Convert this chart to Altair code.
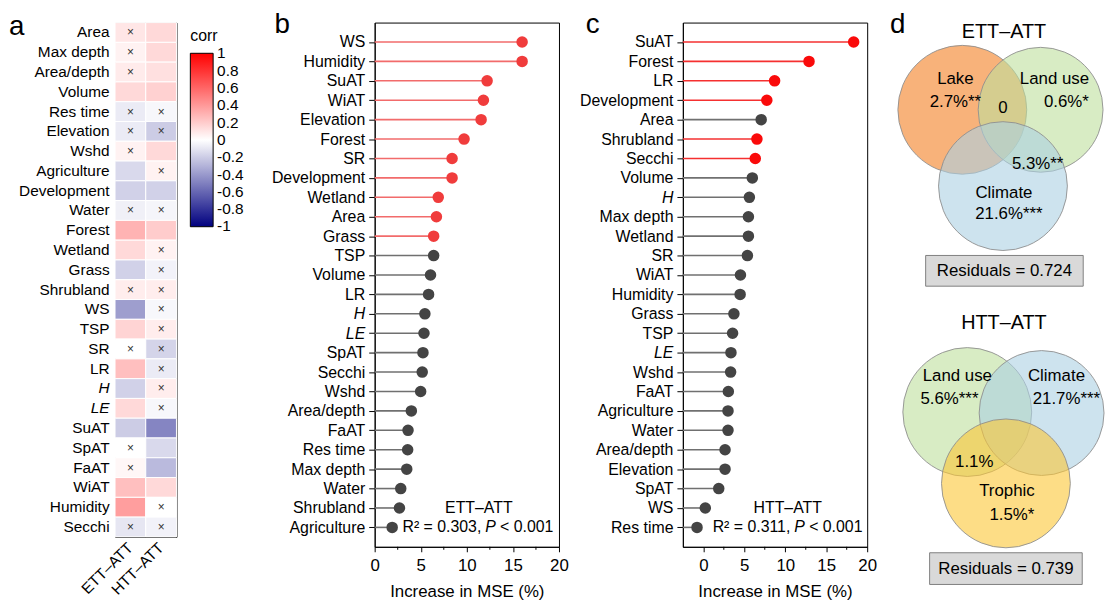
import altair as alt
import pandas as pd

FONT = "Liberation Sans"
ITALIC_TEST = "datum.value === 'H' || datum.value === 'LE'"

# ---------------- panel a : correlation heatmap ----------------
a_vars = ["Area", "Max depth", "Area/depth", "Volume", "Res time", "Elevation", "Wshd",
          "Agriculture", "Development", "Water", "Forest", "Wetland", "Grass", "Shrubland",
          "WS", "TSP", "SR", "LR", "H", "LE", "SuAT", "SpAT", "FaAT", "WiAT", "Humidity", "Secchi"]
a_cols = ["ETT–ATT", "HTT–ATT"]
a_ett = [0.10, 0.05, 0.08, 0.15, -0.08, -0.08, 0.05, -0.15, -0.18, -0.06, 0.30, 0.15, -0.18, 0.07,
         -0.38, 0.17, 0.00, 0.25, -0.18, 0.15, -0.20, 0.00, 0.03, 0.25, 0.38, -0.10]
a_htt = [0.15, 0.15, 0.12, 0.18, -0.03, -0.20, 0.15, 0.05, -0.18, -0.04, 0.20, 0.05, -0.05, 0.07,
         -0.03, 0.07, -0.17, -0.08, 0.07, -0.03, -0.48, -0.15, -0.27, 0.15, 0.00, -0.05]
a_ett_ns = [1, 1, 1, 0, 1, 1, 1, 0, 0, 1, 0, 0, 0, 1, 0, 0, 1, 0, 0, 0, 0, 1, 1, 0, 0, 1]
a_htt_ns = [0, 0, 0, 0, 1, 1, 0, 1, 0, 1, 0, 1, 1, 1, 1, 1, 1, 1, 1, 1, 0, 0, 0, 0, 1, 1]
legend_ticks = [1, 0.8, 0.6, 0.4, 0.2, 0, -0.2, -0.4, -0.6, -0.8, -1]

# ---------------- panel b : ETT-ATT importance ----------------
b_vars = ["WS", "Humidity", "SuAT", "WiAT", "Elevation", "Forest", "SR", "Development", "Wetland",
          "Area", "Grass", "TSP", "Volume", "LR", "H", "LE", "SpAT", "Secchi", "Wshd", "Area/depth",
          "FaAT", "Res time", "Max depth", "Water", "Shrubland", "Agriculture"]
b_vals = [16.0, 16.0, 12.2, 11.8, 11.55, 9.7, 8.4, 8.4, 6.9, 6.7, 6.4, 6.4, 6.06, 5.85, 5.45, 5.35,
          5.24, 5.16, 4.99, 3.98, 3.62, 3.58, 3.48, 2.83, 2.69, 1.9]
b_red = ["WS", "Humidity", "SuAT", "WiAT", "Elevation", "Forest", "SR", "Development", "Wetland",
         "Area", "Grass"]

# ---------------- panel c : HTT-ATT importance ----------------
c_vars = ["SuAT", "Forest", "LR", "Development", "Area", "Shrubland", "Secchi", "Volume", "H",
          "Max depth", "Wetland", "SR", "WiAT", "Humidity", "Grass", "TSP", "LE", "Wshd", "FaAT",
          "Agriculture", "Water", "Area/depth", "Elevation", "SpAT", "WS", "Res time"]
c_vals = [18.35, 12.9, 8.7, 7.75, 7.06, 6.54, 6.34, 5.98, 5.62, 5.5, 5.5, 5.38, 4.53, 4.49, 3.73,
          3.57, 3.37, 3.33, 3.05, 3.01, 3.01, 2.65, 2.65, 1.88, 0.24, -0.77]
c_red = ["SuAT", "Forest", "LR", "Development", "Shrubland", "Secchi"]

major_ticks = [0, 5, 10, 15, 20]
minor_ticks = [2.5, 7.5, 12.5, 17.5]

# ---------------- panel d : variation partitioning (Venn) ----------------
v_circle_set = ["Lake", "Land use", "Climate", "Land use", "Climate", "Trophic"]
v_circle_cx = [75, 154, 116, 80, 155, 119]
v_circle_cy = [88, 88, 165, 393, 394, 465]
v_circle_r = [65, 63, 65, 65, 63, 65]
v_circle_fill = ["#f37f21", "#bedf9d", "#acd0e3", "#bedf9d", "#acd0e3", "#fcc635"]
v_title_txt = ["ETT–ATT", "HTT–ATT"]
v_title_x = [117, 117]
v_title_y = [10, 303]
v_lab_txt = ["Lake", "2.7%**", "0", "Land use", "0.6%*", "5.3%**", "Climate", "21.6%***",
             "Land use", "5.6%***", "Climate", "21.7%***", "1.1%", "Trophic", "1.5%*"]
v_lab_x = [68, 68, 116, 168, 180, 151, 117, 122, 70, 62, 170, 180, 87, 120, 125]
v_lab_y = [57, 80, 86, 57, 80, 143, 172, 193, 357, 380, 357, 380, 443, 473, 497]
v_res_txt = ["Residuals = 0.724", "Residuals = 0.739"]
v_res_x1 = [38, 42]
v_res_x2 = [197, 196]
v_res_y1 = [235, 535]
v_res_y2 = [266, 567]


def letter(ch, dx, dy):
    return alt.Chart(pd.DataFrame({"t": [ch]})).mark_text(
        fontSize=28, align="left", baseline="alphabetic", font=FONT, color="black"
    ).encode(text="t:N", x=alt.value(dx), y=alt.value(dy))


# ---- panel a
rows = []
for i, v in enumerate(a_vars):
    rows.append({"var": v, "pair": a_cols[0], "corr": a_ett[i], "mk": "×" if a_ett_ns[i] else ""})
    rows.append({"var": v, "pair": a_cols[1], "corr": a_htt[i], "mk": "×" if a_htt_ns[i] else ""})
df_a = pd.DataFrame(rows)

xa = alt.X("pair:N", scale=alt.Scale(domain=a_cols, paddingInner=0, paddingOuter=0),
           axis=alt.Axis(title=None, ticks=False, domain=False, labelAngle=-45, labelFontSize=15.5,
                         labelPadding=8, labelAlign="right", labelBaseline="middle"))
ya = alt.Y("var:N", scale=alt.Scale(domain=a_vars, paddingInner=0, paddingOuter=0),
           axis=alt.Axis(title=None, ticks=False, domain=False, labelFontSize=15.5, labelPadding=6,
                         labelFontStyle={"condition": {"test": ITALIC_TEST, "value": "italic"},
                                         "value": "normal"}))
heat = alt.Chart(df_a).mark_rect(stroke="white", strokeWidth=1).encode(
    x=xa, y=ya,
    color=alt.Color("corr:Q",
                    scale=alt.Scale(domain=[-1.002, 0, 1.002],
                                    range=["#00007f", "#ffffff", "#ff0000"], interpolate="rgb"),
                    legend=alt.Legend(title="corr", orient="right", offset=8, padding=6,
                                      gradientLength=175, gradientThickness=23,
                                      values=legend_ticks, labelExpr="toString(datum.value)",
                                      labelOverlap=False, labelBaseline="middle",
                                      titleFontSize=16, titleFontWeight="normal", labelFontSize=15.5,
                                      titlePadding=9, gradientStrokeColor="black",
                                      gradientStrokeWidth=1, labelOffset=4))
)
cross = alt.Chart(df_a).mark_text(fontSize=12, color="#333333", font=FONT).encode(
    x=xa, y=ya, text="mk:N")
panel_a = alt.layer(heat, cross, letter("a", -107, 13)).properties(width=62, height=519)

PLOT_H = 529


# ---- lollipop panels
def lollipop(vars_, vals, reds, lo, red_dot, red_stem, ch, ann_title, ann_title_var, ann_title_x,
             r2_txt, p_x, letter_dx):
    df = pd.DataFrame({"var": vars_, "imp": vals, "hl": [v in reds for v in vars_]})
    x = alt.X("imp:Q", scale=alt.Scale(domain=[lo, 20], nice=False, zero=False),
              axis=alt.Axis(values=major_ticks, title="Increase in MSE (%)",
                            labelFontSize=17, titleFontSize=17, tickSize=5, labelPadding=6,
                            titlePadding=10, labelFlush=False))
    y = alt.Y("var:N", scale=alt.Scale(type="point", domain=vars_, padding=1),
              axis=alt.Axis(title=None, labelFontSize=16, tickSize=6, labelPadding=4,
                            labelFontStyle={"condition": {"test": ITALIC_TEST, "value": "italic"},
                                            "value": "normal"}))
    stem = alt.Chart(df).mark_rule(strokeWidth=1.6).encode(
        x=x, x2=alt.X2Datum(lo), y=y,
        color=alt.condition("datum.hl", alt.value(red_stem), alt.value("#707070")))
    dot = alt.Chart(df).mark_circle(size=135, opacity=1).encode(
        x=x, y=y,
        color=alt.condition("datum.hl", alt.value(red_dot), alt.value("#444444")))
    minor = alt.Chart(pd.DataFrame({"imp": minor_ticks})).mark_rule(
        color="black", strokeWidth=1).encode(x=x, y=alt.value(PLOT_H), y2=alt.value(PLOT_H + 3))
    t1 = alt.Chart(pd.DataFrame({"var": [ann_title_var], "imp": [ann_title_x], "t": [ann_title]})
                   ).mark_text(fontSize=16, font=FONT, color="black").encode(x=x, y=y, text="t:N")
    last = vars_[-1]
    ann = pd.DataFrame({"var": [last], "imp": [p_x], "a": [r2_txt], "p": ["P"], "b": ["< 0.001"]})
    t2 = alt.Chart(ann).mark_text(fontSize=16, font=FONT, align="right", dx=-4, color="black"
                                  ).encode(x=x, y=y, text="a:N")
    t3 = alt.Chart(ann).mark_text(fontSize=16, font=FONT, align="left", fontStyle="italic",
                                  color="black").encode(x=x, y=y, text="p:N")
    t4 = alt.Chart(ann).mark_text(fontSize=16, font=FONT, align="left", dx=15, color="black"
                                  ).encode(x=x, y=y, text="b:N")
    return alt.layer(stem, dot, minor, t1, t2, t3, t4, letter(ch, letter_dx, 11)).properties(
        width=186, height=PLOT_H)


panel_b = lollipop(b_vars, b_vals, b_red, 0, "#f03c3c", "#f26b6b", "b", "ETT–ATT", "Shrubland",
                   11.3, "R\u00b2 = 0.303,", 12.0, -101)
panel_c = lollipop(c_vars, c_vals, c_red, -2.5, "#fa0a0a", "#f53030", "c", "HTT–ATT", "WS",
                   10.3, "R\u00b2 = 0.311,", 11.1, -98)

# ---- panel d
W, H = 212, 570
xs = alt.Scale(domain=[0, W], nice=False, zero=False)
ys = alt.Scale(domain=[0, H], nice=False, zero=False, reverse=True)
df_c = pd.DataFrame({"set": v_circle_set, "cx": v_circle_cx, "cy": v_circle_cy,
                     "r": v_circle_r, "fill": v_circle_fill})
circles = alt.Chart(df_c).transform_calculate(d2="(2*datum.r)*(2*datum.r)").mark_point(
    shape="circle", filled=True, fillOpacity=0.6, opacity=1, stroke="#8f8f8f", strokeWidth=1,
    strokeOpacity=0.9
).encode(x=alt.X("cx:Q", scale=xs, axis=None), y=alt.Y("cy:Q", scale=ys, axis=None),
         size=alt.Size("d2:Q", scale=None), fill=alt.Fill("fill:N", scale=None))
df_t = pd.DataFrame({"t": v_title_txt, "cx": v_title_x, "cy": v_title_y})
titles = alt.Chart(df_t).mark_text(fontSize=20, font=FONT, color="black").encode(
    x=alt.X("cx:Q", scale=xs, axis=None), y=alt.Y("cy:Q", scale=ys, axis=None), text="t:N")
df_l = pd.DataFrame({"t": v_lab_txt, "cx": v_lab_x, "cy": v_lab_y})
labels = alt.Chart(df_l).mark_text(fontSize=17, font=FONT, color="black").encode(
    x=alt.X("cx:Q", scale=xs, axis=None), y=alt.Y("cy:Q", scale=ys, axis=None), text="t:N")
df_r = pd.DataFrame({"t": v_res_txt, "cx": v_res_x1, "cx2": v_res_x2, "cy": v_res_y1,
                     "cy2": v_res_y2})
boxes = alt.Chart(df_r).mark_rect(fill="#d9d9d9", stroke="#808080", strokeWidth=1).encode(
    x=alt.X("cx:Q", scale=xs, axis=None), x2="cx2:Q",
    y=alt.Y("cy:Q", scale=ys, axis=None), y2="cy2:Q")
boxtxt = alt.Chart(df_r).transform_calculate(mx="(datum.cx+datum.cx2)/2",
                                             my="(datum.cy+datum.cy2)/2").mark_text(
    fontSize=17, font=FONT, color="black").encode(
    x=alt.X("mx:Q", scale=xs, axis=None), y=alt.Y("my:Q", scale=ys, axis=None), text="t:N")
panel_d = alt.layer(circles, titles, labels, boxes, boxtxt, letter("d", 2, 11)).properties(
    width=W, height=H, view=alt.ViewBackground(stroke="transparent"))

chart = alt.hconcat(
    panel_a, alt.hconcat(panel_b, panel_c, panel_d, spacing=10), spacing=20
).resolve_scale(color="independent").resolve_legend(color="independent").properties(
    padding={"left": 0, "top": 0, "right": 0, "bottom": 0}
).configure(font=FONT).configure_view(stroke="black", strokeWidth=1).configure_axis(
    grid=False, domainColor="black", tickColor="black", labelColor="black", titleColor="black",
    labelFont=FONT, titleFont=FONT, titleFontWeight="normal"
).configure_legend(labelFont=FONT, titleFont=FONT, labelColor="black", titleColor="black")

chart.save("out.html", embed_options={"renderer": "svg", "actions": False})
